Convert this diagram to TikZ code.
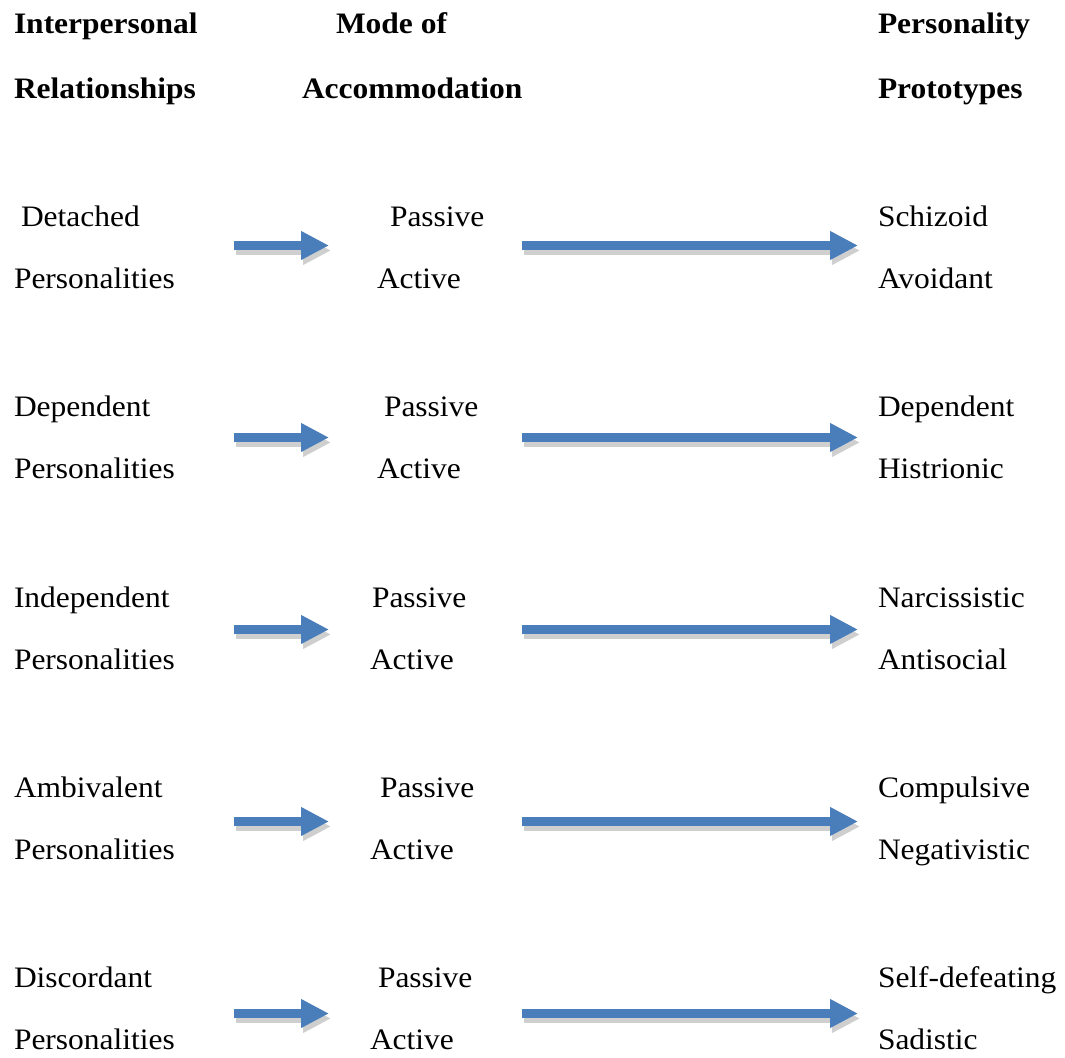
\documentclass[tikz,border=0pt]{standalone}
\usepackage{fontspec}
\setmainfont{Liberation Serif}[FakeStretch=1.06]
\usetikzlibrary{arrows.meta}
\definecolor{arrowblue}{HTML}{4A7EBB}
\definecolor{shadowgray}{HTML}{CFCFCF}
\tikzset{
  lbl/.style={anchor=base west, inner sep=0pt, outer sep=0pt, font=\fontsize{29.7}{30}\selectfont},
  hdr/.style={lbl, font=\fontsize{29.7}{30}\selectfont\bfseries},
  blockshadow/.style={draw=shadowgray, line width=9pt, -{Triangle[length=28pt,width=27pt]}, shadowgray},
  blockarrow/.style={draw=arrowblue, line width=9pt, -{Triangle[length=28pt,width=27pt]}, arrowblue}
}
\begin{document}
\begin{tikzpicture}[x=1pt,y=-1pt]
\useasboundingbox (0,0) rectangle (1065,1057);
% headers
\node[hdr] (h1a) at (14,34) {Interpersonal};
\node[hdr] (h1b) at (14,98) {Relationships};
\node[hdr] (h2a) at (336,34) {Mode of};
\node[hdr] (h2b) at (302,98) {Accommodation};
\node[hdr] (h3a) at (878,34) {Personality};
\node[hdr] (h3b) at (878,98) {Prototypes};
% rows
\foreach \i/\ya/\yb/\ay/\ltext/\lx/\px/\ax/\ra/\rb in {
  1/226/288/245.5/Detached/21/390/377/Schizoid/Avoidant,
  2/416.5/478.5/437.5/Dependent/14/384/377/Dependent/Histrionic,
  3/607/669/629.5/Independent/14/372/370/Narcissistic/Antisocial,
  4/797/859/821.5/Ambivalent/14/380/370/Compulsive/Negativistic,
  5/987/1049/1013.5/Discordant/14/378/370/Self-defeating/Sadistic}{
  \node[lbl] (l\i) at (\lx,\ya) {\ltext};
  \node[lbl] (lp\i) at (14,\yb) {Personalities};
  \node[lbl] (p\i) at (\px,\ya) {Passive};
  \node[lbl] (a\i) at (\ax,\yb) {Active};
  \node[lbl] (r\i) at (878,\ya) {\ra};
  \node[lbl] (s\i) at (878,\yb) {\rb};
  \coordinate (sa\i) at (234,\ay);
  \coordinate (sb\i) at (329,\ay);
  \coordinate (la\i) at (522,\ay);
  \coordinate (lb\i) at (858,\ay);
  \draw[blockshadow] ([shift={(2,5)}]sa\i) -- ([shift={(2,5)}]sb\i);
  \draw[blockshadow] ([shift={(2,5)}]la\i) -- ([shift={(2,5)}]lb\i);
  \draw[blockarrow] (sa\i) -- (sb\i);
  \draw[blockarrow] (la\i) -- (lb\i);
}
\end{tikzpicture}
\end{document}
